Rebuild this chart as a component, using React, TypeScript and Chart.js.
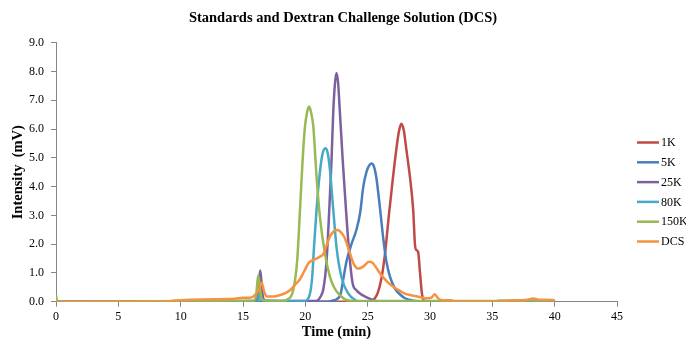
import React, { useEffect, useRef } from "react";
import { Chart, registerables } from "chart.js";

Chart.register(...registerables);

const FONT = "'Liberation Serif', 'Times New Roman', serif";

const chartTitle = "Standards and Dextran Challenge Solution (DCS)";
const seriesLabels = ["1K", "5K", "25K", "80K", "150K", "DCS"];
const seriesColors = ["#BE4B48", "#4A7EBB", "#7D60A0", "#46AAC5", "#98B954", "#F69240"];

const xTicks = [0, 5, 10, 15, 20, 25, 30, 35, 40, 45];
const yTicks = [0, 1, 2, 3, 4, 5, 6, 7, 8, 9];

// 1K
const t1K = [0, 25.0, 25.5, 25.8, 26.1, 26.4, 26.7, 27.0, 27.3, 27.5, 27.7, 27.9, 28.1, 28.4, 28.65, 28.8, 28.9, 29.05, 29.2, 29.35, 29.5, 29.8, 40];
const v1K = [0, 0, 0.08, 0.3, 0.8, 1.7, 3.0, 4.2, 5.3, 5.9, 6.18, 5.95, 5.3, 4.3, 3.2, 1.95, 1.8, 1.72, 1.0, 0.3, 0.05, 0, 0];

// 5K
const t5K = [0, 21.8, 22.3, 22.8, 23.05, 23.3, 23.7, 24.1, 24.4, 24.65, 24.9, 25.1, 25.3, 25.5, 25.7, 26.0, 26.25, 26.5, 26.8, 27.2, 27.6, 28.0, 28.6, 29.2, 40];
const v5K = [0, 0, 0.05, 0.22, 0.8, 1.4, 2.0, 2.5, 3.1, 4.0, 4.5, 4.72, 4.8, 4.7, 4.3, 3.2, 2.2, 1.4, 0.85, 0.45, 0.25, 0.12, 0.04, 0, 0];

// 25K
const t25K = [0, 9.3, 15.8, 16.15, 16.3, 16.38, 16.48, 16.6, 16.8, 20.8, 21.0, 21.25, 21.45, 21.7, 21.92, 22.1, 22.24, 22.38, 22.5, 22.63, 22.77, 23.0, 23.26, 23.52, 23.79, 24.1, 24.4, 24.8, 25.2, 25.5, 26.0, 40];
const v25K = [0, 0, 0.02, 0.1, 0.7, 1.08, 0.7, 0.15, 0.03, 0.02, 0.05, 0.2, 0.45, 1.4, 3.2, 4.9, 6.6, 7.6, 7.95, 7.6, 6.6, 4.9, 3.2, 1.7, 0.65, 0.4, 0.28, 0.18, 0.1, 0.04, 0, 0];

// 80K
const t80K = [0, 16.2, 16.35, 16.5, 19.9, 20.3, 20.55, 20.71, 20.9, 21.12, 21.3, 21.45, 21.63, 21.8, 21.97, 22.24, 22.5, 22.9, 23.44, 24.0, 24.5, 40];
const v80K = [0, 0, 0.3, 0.05, 0.02, 0.17, 0.85, 2.0, 3.2, 4.3, 4.95, 5.25, 5.33, 5.15, 4.6, 3.2, 1.9, 0.85, 0.29, 0.06, 0, 0];

// 150K
const t150K = [0, 0.1, 15.8, 16.05, 16.22, 16.35, 16.5, 16.8, 18.2, 18.5, 19.03, 19.35, 19.57, 19.78, 19.97, 20.15, 20.3, 20.45, 20.64, 20.9, 21.17, 21.57, 21.97, 22.3, 22.64, 23.3, 24.0, 35.4, 35.5, 40];
const v150K = [0.23, 0, 0.03, 0.2, 0.92, 0.5, 0.1, 0.03, 0.02, 0.06, 0.41, 1.45, 3.18, 4.9, 6.08, 6.6, 6.78, 6.6, 6.08, 4.34, 2.95, 1.68, 0.87, 0.5, 0.29, 0.06, 0.02, 0.02, 0.04, 0.04];

// DCS
const tDCS = [0, 9.2, 9.3, 13.95, 15.0, 15.56, 15.96, 16.3, 16.5, 16.7, 16.9, 17.5, 17.96, 18.4, 18.77, 19.2, 19.57, 19.9, 20.24, 20.5, 20.8, 21.1, 21.44, 21.7, 21.97, 22.25, 22.56, 22.85, 23.18, 23.58, 23.9, 24.24, 24.64, 25.12, 25.4, 25.72, 25.98, 26.25, 26.6, 27.05, 27.5, 27.85, 28.4, 28.79, 29.2, 29.6, 30.1, 30.39, 30.6, 30.8, 31.2, 31.75, 31.9, 35.9, 36.2, 37.0, 37.8, 38.3, 38.8, 39.9, 40];
const vDCS = [0, 0, 0.03, 0.09, 0.14, 0.14, 0.23, 0.45, 0.66, 0.35, 0.18, 0.18, 0.23, 0.3, 0.4, 0.6, 0.78, 1.05, 1.33, 1.42, 1.48, 1.55, 1.65, 1.95, 2.26, 2.43, 2.49, 2.42, 2.2, 1.68, 1.3, 1.15, 1.22, 1.39, 1.35, 1.16, 0.99, 0.85, 0.68, 0.52, 0.4, 0.31, 0.23, 0.2, 0.16, 0.12, 0.14, 0.26, 0.14, 0.07, 0.05, 0.05, 0, 0, 0.03, 0.04, 0.07, 0.11, 0.07, 0.06, 0];

const seriesTimes = [t1K, t5K, t25K, t80K, t150K, tDCS];
const seriesValues = [v1K, v5K, v25K, v80K, v150K, vDCS];

const sideLegendAndTitle = {
  id: "sideLegendAndTitle",
  afterDraw(chart: any) {
    const ctx = chart.ctx;
    ctx.save();
    // centred title across the whole canvas
    ctx.fillStyle = "#000";
    ctx.font = `bold 14.5px ${FONT}`;
    ctx.textAlign = "center";
    ctx.textBaseline = "middle";
    ctx.fillText(chartTitle, chart.width / 2, 18.5);
    // legend at the right
    const x0 = chart.chartArea.right + 20;
    chart.data.datasets.forEach((ds: any, i: number) => {
      const y = 142.5 + i * 19.8;
      ctx.strokeStyle = ds.borderColor;
      ctx.lineWidth = 2.5;
      ctx.beginPath();
      ctx.moveTo(x0, y);
      ctx.lineTo(x0 + 22, y);
      ctx.stroke();
      ctx.fillStyle = "#000";
      ctx.font = `12px ${FONT}`;
      ctx.textAlign = "left";
      ctx.textBaseline = "middle";
      ctx.fillText(ds.label, x0 + 24, y + 0.5);
    });
    ctx.restore();
  },
};

export default function App() {
  const ref = useRef<HTMLCanvasElement | null>(null);

  useEffect(() => {
    if (!ref.current) return;
    const datasets = seriesLabels.map((label, i) => ({
      label,
      data: seriesTimes[i].map((t, j) => ({ x: t, y: seriesValues[i][j] })),
      borderColor: seriesColors[i],
      backgroundColor: seriesColors[i],
      borderWidth: 2.5,
      pointRadius: 0,
      fill: false,
      cubicInterpolationMode: "monotone" as const,
      order: seriesLabels.length - i,
    }));
    const chart = new Chart(ref.current, {
      type: "line",
      data: { datasets },
      options: {
        animation: false,
        responsive: false,
        devicePixelRatio: 1,
        layout: { padding: { left: 0, right: 69, top: 42.7, bottom: 0 } },
        plugins: {
          legend: { display: false },
          tooltip: { enabled: false },
          title: { display: false },
        },
        scales: {
          x: {
            type: "linear",
            min: xTicks[0],
            max: xTicks[xTicks.length - 1],
            afterBuildTicks: (scale: any) => {
              scale.ticks = xTicks.map((v) => ({ value: v }));
            },
            afterFit: (scale: any) => {
              scale.height = 39.3;
            },
            ticks: {
              color: "#000",
              font: { family: FONT, size: 12 },
              padding: 3,
              maxRotation: 0,
              autoSkip: false,
            },
            grid: { display: true, drawOnChartArea: false, drawTicks: true, tickLength: 5, color: "#868686" },
            border: { display: true, color: "#868686", width: 1 },
            title: {
              display: true,
              text: "Time (min)",
              color: "#000",
              font: { family: FONT, size: 14.5, weight: "bold" },
              padding: { top: 0, bottom: 0 },
            },
          },
          y: {
            type: "linear",
            min: yTicks[0],
            max: yTicks[yTicks.length - 1],
            afterBuildTicks: (scale: any) => {
              scale.ticks = yTicks.map((v) => ({ value: v }));
            },
            afterFit: (scale: any) => {
              scale.width = 56;
            },
            ticks: {
              color: "#000",
              font: { family: FONT, size: 12 },
              padding: 7,
              callback: (v: any) => Number(v).toFixed(1),
            },
            grid: { display: true, drawOnChartArea: false, drawTicks: true, tickLength: 5, color: "#868686" },
            border: { display: true, color: "#868686", width: 1 },
            title: {
              display: true,
              text: "Intensity  (mV)",
              color: "#000",
              font: { family: FONT, size: 14.5, weight: "bold" },
              padding: { top: 10, bottom: 0 },
            },
          },
        },
      },
      plugins: [sideLegendAndTitle],
    });
    return () => chart.destroy();
  }, []);

  return (
    <div style={{ position: "absolute", left: 0, top: 0, width: 686, height: 341, background: "#fff" }}>
      <canvas ref={ref} width={686} height={341} style={{ display: "block", width: 686, height: 341 }} />
    </div>
  );
}
